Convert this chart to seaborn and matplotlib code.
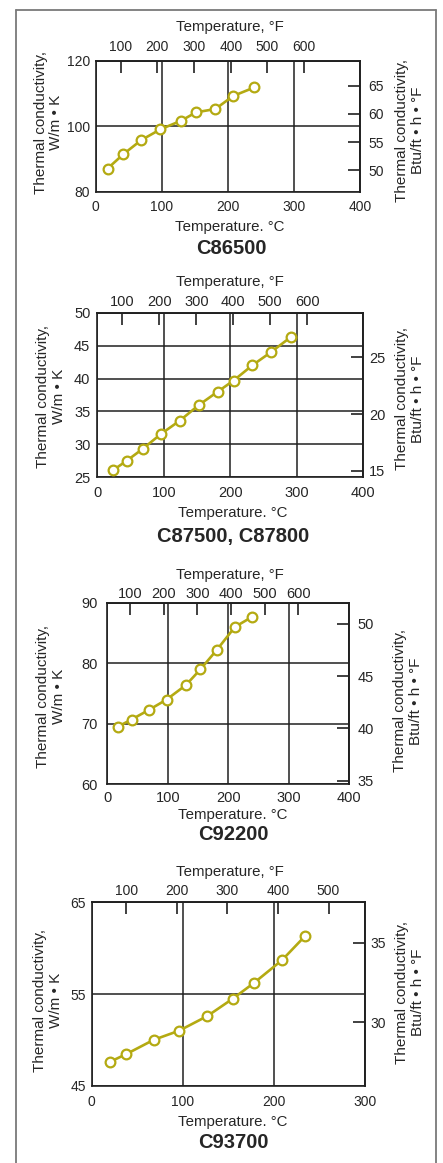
import matplotlib
matplotlib.use("Agg")
import matplotlib.pyplot as plt
from matplotlib.lines import Line2D
import seaborn as sns
import pandas as pd

# ---- data: temperature (deg C) and thermal conductivity (W/m K) ----
alloys = ["C86500", "C87500, C87800", "C92200", "C93700"]

temp_c86500 = [18, 42, 69, 98, 129, 152, 181, 208, 240]
k_c86500 = [87.1, 91.5, 95.8, 99.1, 101.7, 104.3, 105.3, 109.3, 111.9]

temp_c87500 = [24, 44, 68, 96, 124, 153, 181, 205, 233, 261, 291]
k_c87500 = [26.1, 27.5, 29.3, 31.6, 33.6, 36.0, 38.0, 39.7, 42.0, 44.0, 46.3]

temp_c92200 = [17, 40, 69, 98, 130, 154, 181, 211, 240]
k_c92200 = [69.5, 70.7, 72.3, 74.0, 76.4, 79.0, 82.2, 86.0, 87.7]

temp_c93700 = [20, 38, 68, 96, 127, 155, 178, 209, 234]
k_c93700 = [47.6, 48.45, 50.0, 51.0, 52.6, 54.5, 56.2, 58.7, 61.3]

# axis tick values
x_ticks_c = [[0, 100, 200, 300, 400]] * 3 + [[0, 100, 200, 300]]
y_ticks_si = [[80, 100, 120], [25, 30, 35, 40, 45, 50], [60, 70, 80, 90], [45, 55, 65]]
x_ticks_f = [[100, 200, 300, 400, 500, 600]] * 3 + [[100, 200, 300, 400, 500]]
y_ticks_us = [[50, 55, 60, 65], [15, 20, 25], [35, 40, 45, 50], [30, 35]]

series = [(temp_c86500, k_c86500), (temp_c87500, k_c87500),
          (temp_c92200, k_c92200), (temp_c93700, k_c93700)]

# ---- styling ----
sns.set_theme(style="white")
plt.rcParams["font.family"] = ["Liberation Sans", "DejaVu Sans"]
TXT = "#262626"
AX = "#202020"
CURVE = "#b4aa12"

W, H = 443, 1163
fig = plt.figure(figsize=(W / 100, H / 100), dpi=100)


def px_box(l, t, r, b):
    return [l / W, 1 - b / H, (r - l) / W, (b - t) / H]


def fx(x):
    return x / W


def fy(y):
    return 1 - y / H


# outer frame
frame_kw = dict(color="#7a7a7a", lw=1.3, transform=fig.transFigure)
fig.add_artist(Line2D([fx(16), fx(16)], [fy(10), fy(1163)], **frame_kw))
fig.add_artist(Line2D([fx(16), fx(436)], [fy(10), fy(10)], **frame_kw))
fig.add_artist(Line2D([fx(436), fx(436)], [fy(10), fy(10 + 1153)], **frame_kw))

# panel layout (pixels): axes box, label positions, paddings
layout = [
    dict(box=(95.7, 61, 360, 191.7), ylim=(80, 120), xlim=(0, 400),
         lab_l=(48.5, 122), lab_r=(410, 130), topF=(230, 26.7), botC=(230, 226.7),
         title=(231, 248.3), padl=4, padb=6, padr=6, padt=5, fs=10),
    dict(box=(97.3, 312.7, 363.3, 477.3), ylim=(25, 50), xlim=(0, 400),
         lab_l=(51, 396), lab_r=(410, 399), topF=(230, 281.7), botC=(233, 513.3),
         title=(233, 536.7), padl=5, padb=6, padr=4, padt=3, fs=10.5),
    dict(box=(107.3, 602.7, 349.3, 784.3), ylim=(60, 90), xlim=(0, 400),
         lab_l=(51, 696), lab_r=(408, 701), topF=(230, 575), botC=(233, 815),
         title=(233, 835), padl=7, padb=5, padr=6, padt=1.5, fs=10.5),
    dict(box=(91.7, 902.3, 365, 1085.7), ylim=(45, 65), xlim=(0, 300),
         lab_l=(48, 1000), lab_r=(410, 992), topF=(230, 871.7), botC=(233, 1121.7),
         title=(233, 1142.7), padl=4, padb=7, padr=4, padt=3, fs=10),
]


def c2f(c):
    return c * 9 / 5 + 32


def f2c(f):
    return (f - 32) * 5 / 9


def si2us(k):
    return k * 0.5778


def us2si(k):
    return k / 0.5778


for i, (cfg, (tc, kv)) in enumerate(zip(layout, series)):
    ax = fig.add_axes(px_box(*cfg["box"]))
    ax.set_facecolor("white")
    df = pd.DataFrame({"T": tc, "k": kv})
    sns.lineplot(data=df, x="T", y="k", ax=ax, color=CURVE, lw=1.9,
                 marker="o", markersize=7, markerfacecolor="white",
                 markeredgecolor=CURVE, markeredgewidth=1.6, zorder=5)
    ax.set_xlim(*cfg["xlim"])
    ax.set_ylim(*cfg["ylim"])
    ax.set_xticks(x_ticks_c[i])
    ax.set_yticks(y_ticks_si[i])
    ax.set_xlabel("")
    ax.set_ylabel("")
    ax.grid(True, color=AX, lw=1.1)
    for s in ax.spines.values():
        s.set_color(AX)
        s.set_linewidth(1.2)
        s.set_visible(True)
    ax.tick_params(axis="x", length=0, pad=cfg["padb"], labelsize=cfg["fs"], labelcolor=TXT)
    ax.tick_params(axis="y", length=0, pad=cfg["padl"], labelsize=cfg["fs"], labelcolor=TXT)

    # Fahrenheit scale along the top
    top = ax.secondary_xaxis("top", functions=(c2f, f2c))
    top.set_xticks(x_ticks_f[i])
    top.tick_params(direction="in", length=8.5, width=1.2, color=AX,
                    pad=cfg["padt"], labelsize=cfg["fs"], labelcolor=TXT)
    for s in top.spines.values():
        s.set_color(AX)
        s.set_linewidth(1.2)

    # Btu/ft h F scale along the right
    right = ax.secondary_yaxis("right", functions=(si2us, us2si))
    right.set_yticks(y_ticks_us[i])
    right.tick_params(direction="in", length=8.5, width=1.2, color=AX,
                      pad=cfg["padr"], labelsize=cfg["fs"], labelcolor=TXT)
    for s in right.spines.values():
        s.set_color(AX)
        s.set_linewidth(1.2)

    lx, ly = cfg["lab_l"]
    fig.text(fx(lx), fy(ly), "Thermal conductivity,\nW/m \u2022 K", rotation=90,
             ha="center", va="center", multialignment="center",
             fontsize=11, color=TXT, linespacing=1.15)
    rx, ry = cfg["lab_r"]
    fig.text(fx(rx), fy(ry), "Thermal conductivity,\nBtu/ft \u2022 h \u2022 \u00b0F", rotation=90,
             ha="center", va="center", multialignment="center",
             fontsize=11, color=TXT, linespacing=1.15)
    tx, ty = cfg["topF"]
    fig.text(fx(tx), fy(ty), "Temperature, \u00b0F", ha="center", va="center",
             fontsize=10.8, color=TXT)
    bx, by = cfg["botC"]
    fig.text(fx(bx), fy(by), "Temperature. \u00b0C", ha="center", va="center",
             fontsize=10.8, color=TXT)
    ttx, tty = cfg["title"]
    fig.text(fx(ttx), fy(tty), alloys[i], ha="center", va="center",
             fontsize=14.5, fontweight="bold", color=TXT)

fig.savefig("out.png", dpi=100, facecolor="white")
